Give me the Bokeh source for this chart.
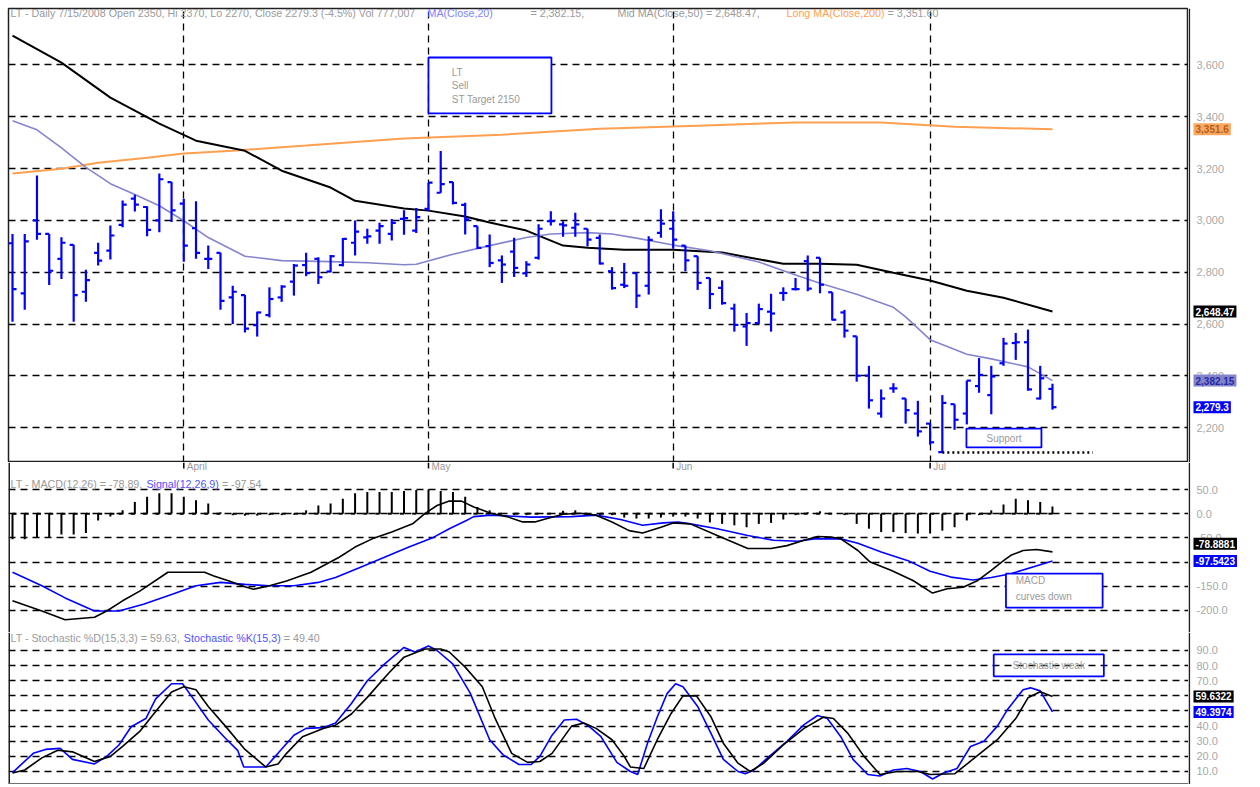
from bokeh.plotting import figure
from bokeh.layouts import column, row
from bokeh.models import Range1d, FixedTicker, BoxAnnotation, Label, Span
from bokeh.core.properties import value
from bokeh.embed import file_html
from bokeh.resources import INLINE

# ---------------- data ----------------
bar_idx = list(range(86))
opens = [2912, 2719, 3000, 2948, 2852, 2906, 2725, 2875, 2884, 2983,
         3084, 3052, 3000, 3148, 3065, 2970, 2852, 2875, 2703, 2712,
         2596, 2635, 2703, 2764, 2828, 2852, 2803, 2828, 2914, 2935,
         2961, 2948, 3006, 2961, 3045, 3107, 3148, 3060, 2978, 2901,
         2846, 2880, 2796, 2856, 2997, 2985, 2972, 2968, 2933, 2804,
         2752, 2797, 2748, 2952, 2968, 2903, 2862, 2778, 2740, 2660,
         2591, 2604, 2648, 2720, 2735, 2843, 2856, 2723, 2645, 2553,
         2401, 2255, 2352, 2313, 2255, 2216, 2106, 2291, 2255, 2361,
         2326, 2449, 2527, 2530, 2313, 2350]
highs = [2948, 2948, 3174, 2948, 2935, 2906, 2810, 2914, 2981, 3077,
         3099, 3055, 3181, 3148, 3084, 3074, 2903, 2875, 2748, 2712,
         2648, 2742, 2750, 2832, 2875, 2858, 2867, 2932, 3000, 2968,
         2991, 3006, 3039, 3048, 3146, 3268, 3148, 3068, 2978, 2946,
         2865, 2933, 2843, 2985, 3036, 2997, 3030, 2968, 2946, 2820,
         2836, 2797, 2939, 3043, 3036, 2903, 2862, 2778, 2769, 2679,
         2643, 2679, 2717, 2742, 2778, 2865, 2856, 2723, 2655, 2553,
         2439, 2348, 2372, 2313, 2304, 2216, 2326, 2291, 2382, 2469,
         2439, 2547, 2566, 2579, 2439, 2370]
lows = [2609, 2655, 2926, 2751, 2774, 2609, 2686, 2826, 2849, 2974,
        3035, 2939, 2955, 2994, 2841, 2852, 2813, 2655, 2600, 2568,
        2552, 2626, 2686, 2710, 2785, 2755, 2800, 2823, 2865, 2910,
        2910, 2923, 2945, 2952, 3036, 3107, 3062, 2946, 2890, 2820,
        2759, 2782, 2782, 2849, 2981, 2937, 2937, 2900, 2830, 2733,
        2739, 2662, 2714, 2933, 2891, 2804, 2732, 2658, 2675, 2571,
        2516, 2601, 2571, 2690, 2730, 2727, 2719, 2614, 2548, 2378,
        2274, 2239, 2335, 2216, 2166, 2135, 2105, 2192, 2213, 2335,
        2252, 2439, 2462, 2343, 2309, 2270]
closes = [2735, 2919, 2948, 2806, 2914, 2712, 2770, 2845, 2942, 3061,
          3061, 2964, 3159, 3039, 2903, 2875, 2852, 2690, 2725, 2583,
          2645, 2697, 2745, 2826, 2797, 2781, 2862, 2929, 2957, 2939,
          2978, 2991, 3009, 3013, 3146, 3140, 3068, 3004, 2894, 2836,
          2830, 2817, 2830, 2968, 2997, 2981, 2985, 2926, 2834, 2739,
          2748, 2710, 2925, 2988, 2926, 2846, 2759, 2716, 2681, 2597,
          2604, 2658, 2641, 2720, 2735, 2737, 2752, 2617, 2575, 2401,
          2306, 2313, 2352, 2268, 2186, 2144, 2296, 2231, 2382, 2404,
          2398, 2525, 2530, 2348, 2391, 2279.3]

ma20_x = [0, 2, 4, 6, 8, 10, 12, 14, 16, 19, 22, 26, 29, 32, 33, 36, 39, 42, 44, 47,
          49, 51, 54, 57, 61, 64, 66, 69, 72, 73, 75, 78, 80, 83, 85]
ma20_y = [3385, 3350, 3280, 3205, 3142, 3100, 3057, 2999, 2934, 2862, 2845, 2841, 2837, 2829,
          2831, 2870, 2903, 2934, 2948, 2953, 2948, 2932, 2905, 2883, 2840, 2790, 2758, 2715,
          2665, 2628, 2540, 2484, 2466, 2435, 2382.15]
ma50_x = [0, 4, 8, 12, 15, 19, 22, 26, 28, 32, 34, 37, 39, 42, 45, 47, 50, 54, 58, 63, 66,
          69, 72, 75, 78, 81, 85]
ma50_y = [3713, 3609, 3474, 3374, 3308, 3269, 3192, 3127, 3076, 3046, 3038, 3015, 2992, 2961,
          2903, 2895, 2887, 2887, 2876, 2833, 2833, 2829, 2798, 2768, 2729, 2702, 2648.47]
ma200_x = [0, 4, 7, 11, 14, 18, 24, 32, 40, 48, 56, 64, 71, 77, 85]
ma200_y = [3181, 3200, 3223, 3242, 3258, 3269, 3289, 3316, 3331, 3354, 3366, 3378, 3378,
           3362, 3351.6]

macd_x = [0, 2.4, 4.3, 6.7, 7.7, 9.0, 10.4, 12.7, 15.7, 16.4, 17.7, 19.0, 19.7, 21.0, 22.4,
          24.4, 26.7, 28.0, 29.4, 31.0, 32.7, 33.7, 34.7, 35.7, 36.7, 37.7, 39.1, 40.4, 41.7,
          42.7, 43.7, 45.0, 46.4, 47.7, 49.0, 50.4, 51.5, 53.0, 54.0, 55.4, 57.6, 60.1, 62.0,
          63.3, 64.7, 65.8, 66.9, 67.7, 69.1, 70.1, 71.8, 73.6, 75.2, 76.4, 77.7, 78.9, 80.0,
          81.0, 81.6, 82.6, 83.7, 85]
macd_y = [-180, -201, -219, -214, -201, -180, -160, -121, -121, -128, -139, -151, -156, -149,
          -139, -121, -90, -69, -52, -38, -21, 0, 17, 26, 26, 14, 1, -6, -17, -17, -10, -1, 1,
          -3, -17, -35, -40, -28, -19, -21, -45, -72, -72, -66, -55, -47, -48, -52, -76, -100,
          -117, -138, -164, -155, -152, -138, -117, -97, -86, -76, -74, -78.89]
signal_x = [0, 2.4, 4.3, 6.7, 8.7, 10.7, 13.0, 15.0, 17.0, 19.0, 21.0, 23.0, 25.0, 26.4, 28.4,
            30.4, 32.4, 34.4, 35.7, 37.1, 37.7, 39.1, 42.4, 45.7, 47.7, 49.7, 51.5, 53.2, 54.4,
            55.4, 57.6, 60.1, 62.2, 64.2, 65.5, 67.7, 69.1, 71.0, 73.2, 75.0, 76.7, 78.5, 80.0,
            81.6, 85]
signal_y = [-121, -149, -174, -201, -201, -187, -167, -149, -142, -146, -149, -149, -142, -132,
            -111, -90, -69, -49, -31, -14, -6, -3, -7, -6, -3, -12, -24, -19, -17, -21, -31, -45,
            -55, -57, -52, -52, -61, -79, -97, -119, -131, -137, -132, -124, -97.54]
hist = [-53, -53, -50, -49, -43, -43, -40, -14, -6, 7,
        24, 35, 42, 42, 35, 28, 21, 3, -3, -4,
        -4, -3, -3, -2, 7, 17, 21, 31, 42, 45,
        45, 45, 47, 49, 50, 47, 45, 35, 14, 7,
        0, -3, -3, 0, 1, 6, 7, 0, -3, -3,
        -8, -10, -10, -8, -6, -6, -10, -18, -21, -24,
        -28, -21, -19, -12, -3, 3, 5, 0, -3, -21,
        -31, -38, -38, -40, -41, -41, -35, -28, -14, -3,
        7, 19, 31, 28, 24, 15]

k_x = [0, 1.7, 2.7, 3.9, 4.9, 6.7, 7.7, 8.7, 9.7, 10.9, 11.7, 13.0, 13.9, 14.7, 16.0, 17.4,
       18.4, 18.9, 20.7, 21.7, 23.0, 24.0, 25.4, 26.4, 27.7, 29.0, 30.4, 32.0, 32.9, 34.0,
       34.7, 36.0, 37.4, 39.0, 40.1, 41.4, 42.4, 43.1, 44.1, 45.1, 46.1, 47.1, 48.1, 49.4,
       50.5, 51.1, 51.9, 52.7, 53.5, 54.2, 54.8, 56.0, 57.1, 58.1, 59.3, 59.9, 60.6, 62.0,
       63.3, 64.7, 65.8, 66.6, 67.7, 68.7, 69.9, 70.9, 72.0, 73.1, 74.2, 75.2, 76.1, 77.2,
       78.3, 79.4, 80.5, 81.3, 82.0, 82.6, 83.2, 84.0, 85]
k_y = [9.3, 22, 24.6, 25.3, 18, 15, 20, 27.5, 39.6, 45, 58, 68, 68, 59, 44, 32, 24, 13, 13,
       22, 34, 38.5, 39, 42, 55, 70, 81, 92, 89, 93, 90, 81, 62, 31, 21, 14.6, 14.6, 20, 34,
       44, 44.5, 40, 33, 16, 10, 8, 28.7, 46, 61.5, 68, 66, 53, 35, 18, 10, 8.5, 11, 21, 30,
       41, 47, 45, 33, 18, 8, 7, 11, 12, 10, 5, 9, 12, 26.5, 30, 40, 50.6, 58, 64, 65.3,
       63.3, 49.4]
d_x = [0, 1.0, 2.4, 3.7, 4.9, 6.7, 8.0, 9.0, 10.4, 11.7, 13.0, 14.0, 15.0, 16.0, 17.4, 19.0,
       20.7, 21.7, 22.4, 23.7, 25.4, 26.4, 27.7, 29.0, 30.7, 32.0, 33.7, 35.0, 35.7, 37.0,
       38.4, 39.4, 40.8, 42.1, 43.1, 44.1, 45.7, 46.7, 47.7, 49.0, 50.0, 50.5, 51.6, 52.7,
       53.8, 54.8, 55.9, 57.1, 58.1, 59.3, 60.3, 61.4, 63.0, 64.7, 66.3, 67.1, 68.3, 69.6,
       70.9, 72.3, 74.0, 75.0, 77.0, 78.1, 79.4, 80.5, 82.0, 83.0, 84.0, 85]
d_y = [9, 11, 19, 24, 23, 16.6, 20, 26.6, 36.5, 49.6, 62.6, 66, 64, 53, 40, 24.6, 13, 15, 22,
       33, 38.5, 40.6, 48, 59, 74.6, 85.6, 91, 91, 89, 79, 66, 46, 22, 16, 16.6, 22, 40, 42,
       38.5, 31, 20, 13, 12, 31, 48, 60, 60, 46, 28.7, 15.5, 10, 15.5, 27.6, 38.5, 46, 45, 35,
       20, 8, 10, 10, 8, 8.5, 15.5, 24, 31, 45, 58.7, 62.7, 59.63]

month_ticks = [14, 34, 54, 75]
month_labels = ["April", "May", "Jun", "Jul"]
price_ticks = [2200, 2400, 2600, 2800, 3000, 3200, 3400, 3600]
macd_ticks = [-200, -150, -100, -50, 0, 50]
stoch_ticks = [10, 20, 30, 40, 50, 60, 70, 80, 90]
support_level = 2105

# ---------------- style ----------------
FONT = "Liberation Sans"
GRAY = "#9a9a9a"
AXGRAY = "#a8a8a8"
BLUE = "#0000ff"
LBLUE = "#5050ff"
PURPLE_TXT = "#7f7fff"
MA20_C = "#8585cc"
ORANGE = "#ffa050"
MARGIN = 8
FW = 1180
SW = 62
XR = (-0.327, 96.12)
HFS = 10.7  # header font size (px)

# approximate Arial/Liberation Sans advance widths (per em) for laying out header pieces
_AW = {" ": .278, "%": .889, "(": .333, ")": .333, ",": .278, "-": .333, ".": .278,
       "=": .584, "A": .667, "C": .722, "D": .722, "K": .667, "L": .556, "M": .833,
       "S": .667, "T": .611, "a": .556, "c": .5, "e": .556, "g": .556, "h": .556, "i": .222,
       "l": .222, "n": .556, "o": .556, "s": .5, "t": .278, "d": .556}


def text_w(s, fs=HFS):
    return sum(_AW.get(ch, .556) for ch in s) * fs


def px_to_x(px):
    return XR[0] + (px - MARGIN) * (XR[1] - XR[0]) / FW


def main_fig(h, yr, top=0):
    p = figure(width=MARGIN + FW, height=h + top, x_range=Range1d(*XR), y_range=yr,
               output_backend="svg", toolbar_location=None,
               x_axis_location=None, y_axis_location=None,
               min_border_left=MARGIN, min_border_right=0, min_border_top=top,
               min_border_bottom=0, background_fill_color="white",
               border_fill_color="white")
    return p


def side_fig(h, yr, ticks, labels, top=0):
    s = figure(width=SW, height=h + top, x_range=Range1d(0, SW), y_range=yr,
               output_backend="svg", toolbar_location=None,
               x_axis_location=None, y_axis_location=None,
               min_border_left=0, min_border_right=0, min_border_top=top,
               min_border_bottom=0, background_fill_color="white",
               border_fill_color="white")
    s.grid.visible = False
    s.outline_line_color = None
    s.add_layout(Span(location=0.8, dimension="height", line_color="#202020", line_width=1.6))
    s.text(x=[8] * len(ticks), y=ticks, text=labels, text_font=value(FONT),
           text_font_size="11px", text_color=AXGRAY, text_baseline="middle",
           text_align="left")
    return s


def hgrid(p, ticks):
    p.ygrid.ticker = FixedTicker(ticks=ticks)
    p.ygrid.grid_line_color = "black"
    p.ygrid.grid_line_dash = "7 5"
    p.ygrid.grid_line_width = 1.3


def header(p, y, pieces):
    """pieces: list of (text, color, start_px or None to follow the previous piece)"""
    cur = 10
    for text, color, start in pieces:
        if start is not None:
            cur = start
        p.add_layout(Label(x=px_to_x(cur), y=y, text=text, text_color=color, text_font=FONT,
                           text_font_size=f"{HFS}px", text_baseline="middle",
                           text_align="left"))
        cur += text_w(text + " ")


def tag(s, val, text, bg, fg, yoff=0):
    s.add_layout(Label(x=5, y=val, text=text, text_color=fg, text_font=FONT,
                       text_font_size="10px", text_font_style="bold",
                       background_fill_color=bg, text_baseline="middle",
                       text_align="left", y_offset=yoff, padding=2))


def note(p, x, y, text, align="left", size="10px"):
    p.add_layout(Label(x=x, y=y, text=text, text_color=GRAY, text_font=FONT,
                       text_font_size=size, text_baseline="middle", text_align=align))


def box(p, l, r, t, b, fill=True):
    p.add_layout(BoxAnnotation(left=l, right=r, top=t, bottom=b,
                               fill_color="white", fill_alpha=1.0 if fill else 0.0,
                               line_color=BLUE, line_alpha=1.0, line_width=1.8))


tk = 0.33

# ---------------- price panel ----------------
yr1 = Range1d(2066, 3818)
p1 = main_fig(454, yr1, top=MARGIN)
hgrid(p1, price_ticks)
p1.xgrid.ticker = FixedTicker(ticks=month_ticks)
p1.xgrid.grid_line_color = "black"
p1.xgrid.grid_line_dash = "7 5"
p1.xgrid.grid_line_width = 1.3
p1.outline_line_color = "#202020"
p1.outline_line_width = 1.5

p1.line(ma200_x, ma200_y, line_color=ORANGE, line_width=2)
p1.line(ma50_x, ma50_y, line_color="black", line_width=2)
p1.line(ma20_x, ma20_y, line_color=MA20_C, line_width=1.6)

p1.segment(x0=bar_idx, y0=lows, x1=bar_idx, y1=highs, line_color=BLUE, line_width=2.2)
p1.segment(x0=[i - tk for i in bar_idx], y0=opens, x1=bar_idx, y1=opens,
           line_color=BLUE, line_width=2.2)
p1.segment(x0=bar_idx, y0=closes, x1=[i + tk for i in bar_idx], y1=closes,
           line_color=BLUE, line_width=2.2)

p1.segment(x0=[76], y0=[support_level], x1=[88.3], y1=[support_level],
           line_color="black", line_width=2.5, line_dash="2 3")

box(p1, 34.0, 44.05, 3629, 3413)
note(p1, 35.9, 3571, "LT")
note(p1, 35.9, 3521, "Sell")
note(p1, 35.9, 3467, "ST Target 2150")
box(p1, 77.97, 84.1, 2197, 2124)
note(p1, 81.04, 2158, "Support", align="center")

header(p1, 3799, [
    ("LT - Daily 7/15/2008 Open 2350, Hi 2370, Lo 2270, Close 2279.3 (-4.5%) Vol 777,007", GRAY, 10),
    ("MA(Close,20)", PURPLE_TXT, 427),
    ("= 2,382.15,", GRAY, 530),
    ("Mid MA(Close,50) = 2,648.47,", GRAY, 617),
    ("Long MA(Close,200)", ORANGE, 786),
    ("= 3,351.60", GRAY, None),
])

s1 = side_fig(454, yr1, price_ticks, [f"{t:,}" for t in price_ticks], top=MARGIN)
tag(s1, 3351.6, "3,351.6", "#f9a862", "#b8601a")
tag(s1, 2648.47, "2,648.47", "black", "white")
tag(s1, 2382.15, "2,382.15", "#8484cc", "#2a2aa0")
tag(s1, 2279.3, "2,279.3", BLUE, "white")

# ---------------- MACD panel ----------------
yr2 = Range1d(-245.5, 105.8)
p2 = main_fig(170, yr2)
hgrid(p2, macd_ticks)
p2.xgrid.visible = False
p2.outline_line_color = None
p2.add_layout(Span(location=XR[0], dimension="height", line_color="#202020", line_width=3))

p2.segment(x0=bar_idx, y0=[0] * len(hist), x1=bar_idx, y1=hist, line_color="black", line_width=2)
p2.segment(x0=[i - tk if v >= 0 else i for i, v in zip(bar_idx, hist)], y0=[0] * len(hist),
           x1=[i if v >= 0 else i + tk for i, v in zip(bar_idx, hist)], y1=[0] * len(hist),
           line_color="black", line_width=2)
p2.line(signal_x, signal_y, line_color=BLUE, line_width=1.6)
p2.line(macd_x, macd_y, line_color="black", line_width=1.6)

# month ticks and labels (just below the price panel)
p2.segment(x0=month_ticks, y0=[105.8] * 4, x1=month_ticks, y1=[93.5] * 4,
           line_color="black", line_width=1.5)
for t, lab in zip(month_ticks, month_labels):
    note(p2, t + 0.25, 97.0, lab, size="10px")

box(p2, 81.2, 89.1, -124, -194)
note(p2, 82.0, -138, "MACD")
note(p2, 82.0, -171, "curves down")

header(p2, 62.4, [
    ("LT - MACD(12,26) = -78.89,", GRAY, 10),
    ("Signal(12,26,9)", LBLUE, None),
    ("= -97.54", GRAY, None),
])

s2 = side_fig(170, yr2, macd_ticks, [f"{t:.1f}" for t in macd_ticks])
tag(s2, -78.89, "-78.8881", "black", "white", yoff=8)
tag(s2, -97.54, "-97.5423", BLUE, "white")

# ---------------- Stochastic panel ----------------
yr3 = Range1d(1.4, 101.9)
p3 = main_fig(152, yr3)
hgrid(p3, stoch_ticks)
p3.xgrid.visible = False
p3.outline_line_color = None
p3.add_layout(Span(location=XR[0], dimension="height", line_color="#202020", line_width=3))
p3.add_layout(Span(location=1.4, dimension="width", line_color="#707070", line_width=3))

p3.line(k_x, k_y, line_color=BLUE, line_width=1.6)
p3.line(d_x, d_y, line_color="black", line_width=1.6)

box(p3, 80.2, 89.2, 87.4, 72.9, fill=False)
note(p3, 84.7, 80, "Stochastic weak", align="center")

header(p3, 98.0, [
    ("LT - Stochastic %D(15,3,3) = 59.63,", GRAY, 10),
    ("Stochastic %K(15,3)", LBLUE, None),
    ("= 49.40", GRAY, None),
])

s3 = side_fig(152, yr3, stoch_ticks, [f"{t:.1f}" for t in stoch_ticks])
tag(s3, 59.63, "59.6322", "black", "white")
tag(s3, 49.40, "49.3974", BLUE, "white")

layout = column(row(p1, s1, spacing=0), row(p2, s2, spacing=0), row(p3, s3, spacing=0),
                spacing=0)
open("out.html", "w").write(file_html(layout, INLINE))
